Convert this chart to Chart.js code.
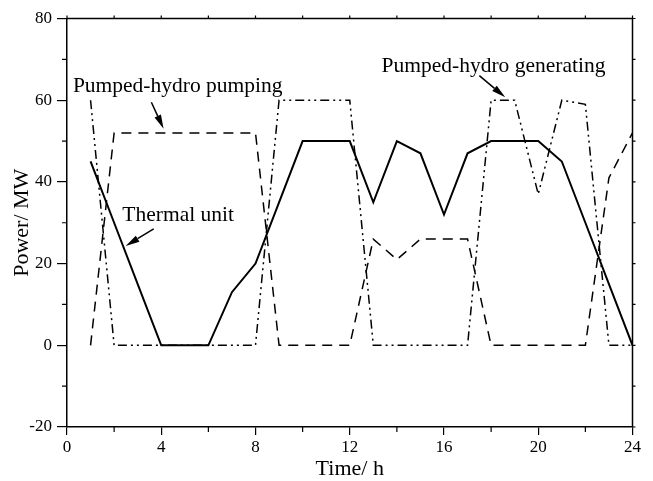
<!DOCTYPE html>
<html>
<head>
<meta charset="utf-8">
<title>Potência por hora</title>
<script src="https://cdn.jsdelivr.net/npm/chart.js@4.4.1/dist/chart.umd.min.js"></script>
<style>
  body { margin: 0; background: #fff; }
  canvas { display: block; }
</style>
</head>
<body>
<canvas id="grafico" width="653" height="481"></canvas>
<script>
// Horas do dia (eixo x)
const horas = [1, 2, 3, 4, 5, 6, 7, 8, 9, 10, 11, 12, 13, 14, 15, 16, 17, 18, 19, 20, 21, 22, 23, 24];

// Unidade térmica (linha contínua)
const termica = [45, 30, 15, 0, 0, 0, 13, 20, 35, 50, 50, 50, 35, 50, 47, 32, 47, 50, 50, 50, 45, 30, 15, 0];

// Usina reversível bombeando (tracejada)
const bombeamento = [0, 52, 52, 52, 52, 52, 52, 52, 0, 0, 0, 0, 26, 21, 26, 26, 26, 0, 0, 0, 0, 0, 41, 52];

// Usina reversível gerando (traço-ponto-ponto)
const geracao = [60, 0, 0, 0, 0, 0, 0, 0, 60, 60, 60, 60, 0, 0, 0, 0, 0, 60, 60, 37, 60, 59, 0, 0];

// Marcas principais dos eixos
const marcasX = [0, 4, 8, 12, 16, 20, 24];
const marcasY = [-20, 0, 20, 40, 60, 80];

// Textos com setas (posições em unidades do gráfico)
const anotacoes = [
    { texto: 'Pumped-hydro pumping', x: 0.25, y: 62, de: [3.58, 59.5], para: [4.1, 53] },
    { texto: 'Thermal unit', x: 2.35, y: 30.4, de: [3.68, 28.5], para: [2.49, 24.3] },
    { texto: 'Pumped-hydro generating', x: 13.35, y: 66.8, de: [17.5, 66], para: [18.6, 60.7] }
];

const fonteSerif = "'Liberation Serif', 'Times New Roman', serif";
Chart.defaults.font.family = fonteSerif;
Chart.defaults.color = '#000';

// Junta horas + valores no formato {x, y}
function pontos(valores) {
    return horas.map((h, i) => ({ x: h, y: valores[i] }));
}

// Meio do caminho entre marcas principais = marcas menores
function marcasMenores(lista) {
    const res = [];
    for (let i = 0; i < lista.length - 1; i++) res.push((lista[i] + lista[i + 1]) / 2);
    return res;
}

function desenharSeta(ctx, x1, y1, x2, y2) {
    const ang = Math.atan2(y2 - y1, x2 - x1);
    const comp = 14, larg = 3.5;
    const bx = x2 - comp * Math.cos(ang), by = y2 - comp * Math.sin(ang);
    ctx.beginPath();
    ctx.moveTo(x1, y1);
    ctx.lineTo(bx, by);
    ctx.stroke();
    ctx.beginPath();
    ctx.moveTo(x2, y2);
    ctx.lineTo(bx + larg * Math.sin(ang), by - larg * Math.cos(ang));
    ctx.lineTo(bx - larg * Math.sin(ang), by + larg * Math.cos(ang));
    ctx.closePath();
    ctx.fill();
}

// Plugin: moldura, marcas menores e anotações
const extras = {
    id: 'extras',
    afterDraw(chart) {
        const ctx = chart.ctx;
        const { left, right, top, bottom } = chart.chartArea;
        const sx = chart.scales.x, sy = chart.scales.y;
        ctx.save();
        ctx.strokeStyle = '#000';
        ctx.fillStyle = '#000';
        ctx.lineWidth = 1.5;

        // moldura de cima e da direita
        ctx.beginPath();
        ctx.moveTo(left, top);
        ctx.lineTo(right, top);
        ctx.lineTo(right, bottom);
        ctx.stroke();

        ctx.lineWidth = 1.2;
        ctx.beginPath();
        // marcas menores embaixo e à esquerda
        marcasMenores(marcasX).forEach(v => {
            const px = sx.getPixelForValue(v);
            ctx.moveTo(px, bottom); ctx.lineTo(px, bottom + 5);
        });
        marcasMenores(marcasY).forEach(v => {
            const py = sy.getPixelForValue(v);
            ctx.moveTo(left, py); ctx.lineTo(left - 5, py);
        });
        // marcas curtas em cima e à direita
        marcasX.concat(marcasMenores(marcasX)).forEach(v => {
            const px = sx.getPixelForValue(v);
            ctx.moveTo(px, top); ctx.lineTo(px, top - 3);
        });
        marcasY.concat(marcasMenores(marcasY)).forEach(v => {
            const py = sy.getPixelForValue(v);
            ctx.moveTo(right, py); ctx.lineTo(right + 3, py);
        });
        ctx.stroke();

        // textos e setas
        ctx.font = '21.5px ' + fonteSerif;
        ctx.textAlign = 'left';
        ctx.textBaseline = 'alphabetic';
        ctx.lineWidth = 1.5;
        anotacoes.forEach(a => {
            ctx.fillText(a.texto, sx.getPixelForValue(a.x), sy.getPixelForValue(a.y));
            desenharSeta(ctx,
                sx.getPixelForValue(a.de[0]), sy.getPixelForValue(a.de[1]),
                sx.getPixelForValue(a.para[0]), sy.getPixelForValue(a.para[1]));
        });
        ctx.restore();
    }
};

const ctx = document.getElementById('grafico').getContext('2d');

new Chart(ctx, {
    type: 'line',
    data: {
        datasets: [
            {
                label: 'Thermal unit',
                data: pontos(termica),
                borderColor: '#000',
                borderWidth: 2,
                pointRadius: 0,
                fill: false,
                tension: 0
            },
            {
                label: 'Pumped-hydro pumping',
                data: pontos(bombeamento),
                borderColor: '#000',
                borderWidth: 1.5,
                borderDash: [10, 7],
                pointRadius: 0,
                fill: false,
                tension: 0
            },
            {
                label: 'Pumped-hydro generating',
                data: pontos(geracao),
                borderColor: '#000',
                borderWidth: 1.5,
                borderDash: [9, 4, 2, 4, 2, 4],
                pointRadius: 0,
                fill: false,
                tension: 0
            }
        ]
    },
    options: {
        responsive: false,
        animation: false,
        devicePixelRatio: 1,
        layout: { padding: { left: 0, top: 18.5, right: 20.5, bottom: 0 } },
        plugins: {
            legend: { display: false },
            tooltip: { enabled: false }
        },
        scales: {
            x: {
                type: 'linear',
                min: 0,
                max: 24,
                ticks: { stepSize: 4, padding: 2, maxRotation: 0, color: '#000', font: { size: 17 } },
                grid: { drawOnChartArea: false, tickLength: 8, color: '#000', lineWidth: 1.2 },
                border: { color: '#000', width: 1.5 },
                title: { display: true, text: 'Time/ h', color: '#000', font: { size: 22, lineHeight: 1.1 }, padding: 0 },
                afterFit(s) { s.height = 54; }
            },
            y: {
                min: -20,
                max: 80,
                ticks: { stepSize: 20, padding: 5, color: '#000', font: { size: 17 } },
                grid: { drawOnChartArea: false, tickLength: 10, color: '#000', lineWidth: 1.2 },
                border: { color: '#000', width: 1.5 },
                title: { display: true, text: 'Power/ MW', color: '#000', font: { size: 22, lineHeight: 1.1 }, padding: { top: 10, bottom: 0 } },
                afterFit(s) { s.width = 67; }
            }
        }
    },
    plugins: [extras]
});
</script>
</body>
</html>
